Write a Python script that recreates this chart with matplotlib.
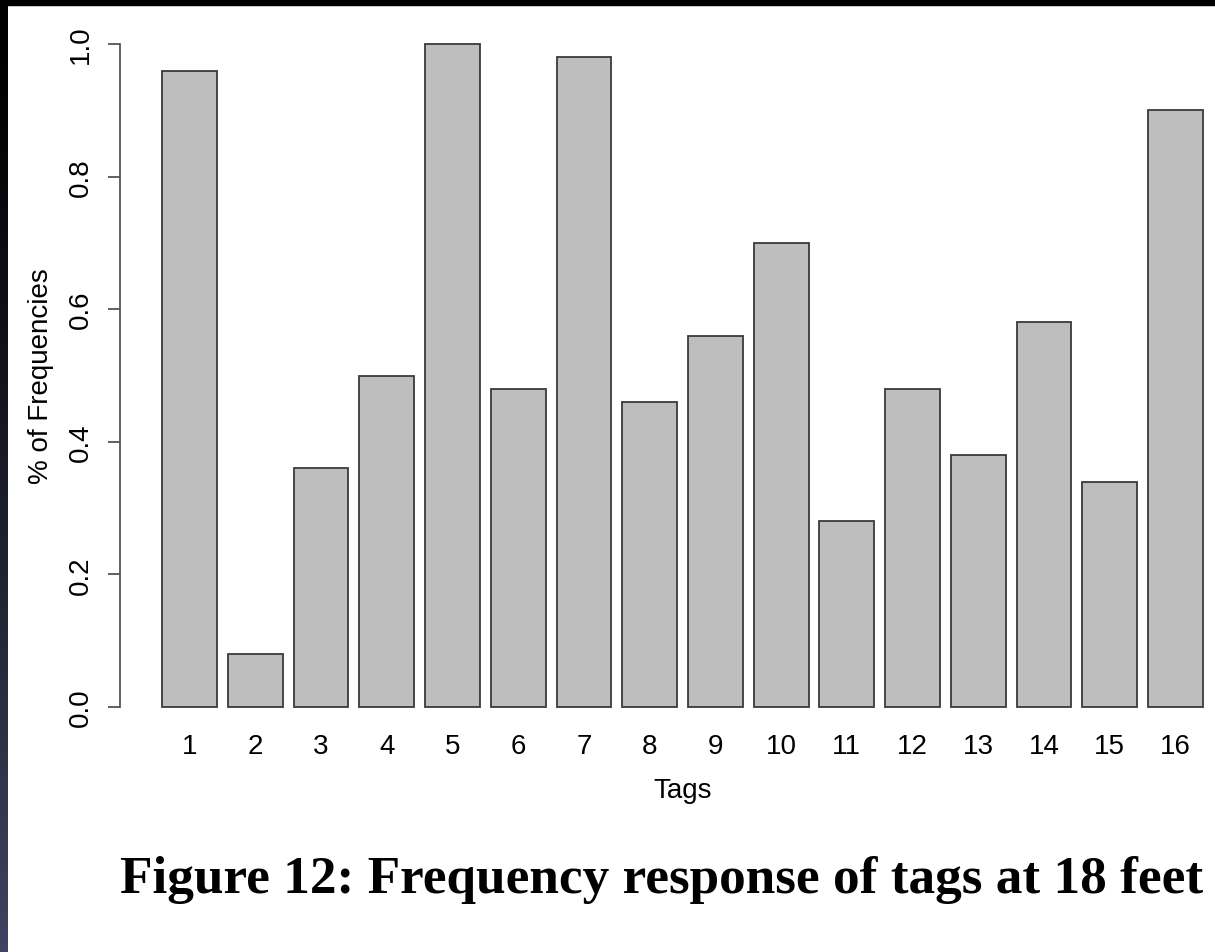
import matplotlib
matplotlib.use("Agg")
import matplotlib.pyplot as plt
import numpy as np
from matplotlib.patches import Rectangle

# ---- data ----
tags = [str(i) for i in range(1, 17)]
freq = [0.96, 0.08, 0.36, 0.50, 1.00, 0.48, 0.98, 0.46,
        0.56, 0.70, 0.28, 0.48, 0.38, 0.58, 0.34, 0.90]
yticks = [0.0, 0.2, 0.4, 0.6, 0.8, 1.0]
ytick_labels = ["0.0", "0.2", "0.4", "0.6", "0.8", "1.0"]
caption = "Figure 12: Frequency response of tags at 18 feet"

W, H = 1215, 953
fig = plt.figure(figsize=(W / 100, H / 100), dpi=100)
fig.patch.set_facecolor("white")

# axes placed in pixel terms (R barplot style region)
ax_left, ax_right = 120, 1256
ax_top, ax_bot = 45, 708
ax = fig.add_axes([ax_left / W, (H - ax_bot) / H,
                   (ax_right - ax_left) / W, (ax_bot - ax_top) / H])
ax.set_facecolor("none")

pos = [0.7 + 1.2 * i for i in range(len(tags))]
bars = ax.bar(pos, freq, width=1.0, color="#bebebe",
              edgecolor="#3a3a3a", linewidth=1.3)
for b in bars:
    b.set_clip_on(False)

ax.set_xlim(-0.568, 20.168)
ax.set_ylim(0, 1)

for s in ["top", "right", "bottom"]:
    ax.spines[s].set_visible(False)
ax.spines["left"].set_color("#555555")
ax.spines["left"].set_linewidth(1.3)

font = "Liberation Sans"
ax.set_yticks(yticks)
ax.set_yticklabels(ytick_labels, rotation=90, va="center",
                   fontsize=20, family=font)
ax.tick_params(axis="y", length=8.6, width=1.3, color="#555555", pad=10)

ax.set_xticks(pos)
ax.set_xticklabels(tags, fontsize=20, family=font)
ax.tick_params(axis="x", length=0, pad=19)

ax.set_xlabel("Tags", fontsize=20, family=font, va="top")
ax.xaxis.set_label_coords((683 - ax_left) / (ax_right - ax_left),
                          -(778 - ax_bot) / (ax_bot - ax_top))
ax.set_ylabel("% of Frequencies", fontsize=20, family=font)
ax.yaxis.set_label_coords((54 - ax_left) / (ax_right - ax_left), 0.5)

fig.text(661.5 / W, (H - 880) / H, caption, ha="center", va="center",
         fontsize=38.3, family="Liberation Serif", weight="bold")

# screenshot dark borders: top black strip, left gradient strip
fig.patches.append(Rectangle((0, (H - 6) / H), 1, 6 / H,
                             transform=fig.transFigure, color="black",
                             zorder=10))
gax = fig.add_axes([0, 0, 8 / W, (H - 6) / H])
gax.axis("off")
t = np.linspace(0, 1, 256) ** 1.3
top_c = np.array([0.0, 0.0, 0.0])
bot_c = np.array([0x40, 0x44, 0x60]) / 255.0
grad = (top_c[None, :] * (1 - t[:, None]) + bot_c[None, :] * t[:, None])
gax.imshow(grad[:, None, :], aspect="auto", extent=[0, 1, 0, 1],
           origin="upper")

fig.savefig("out.png", dpi=100)
